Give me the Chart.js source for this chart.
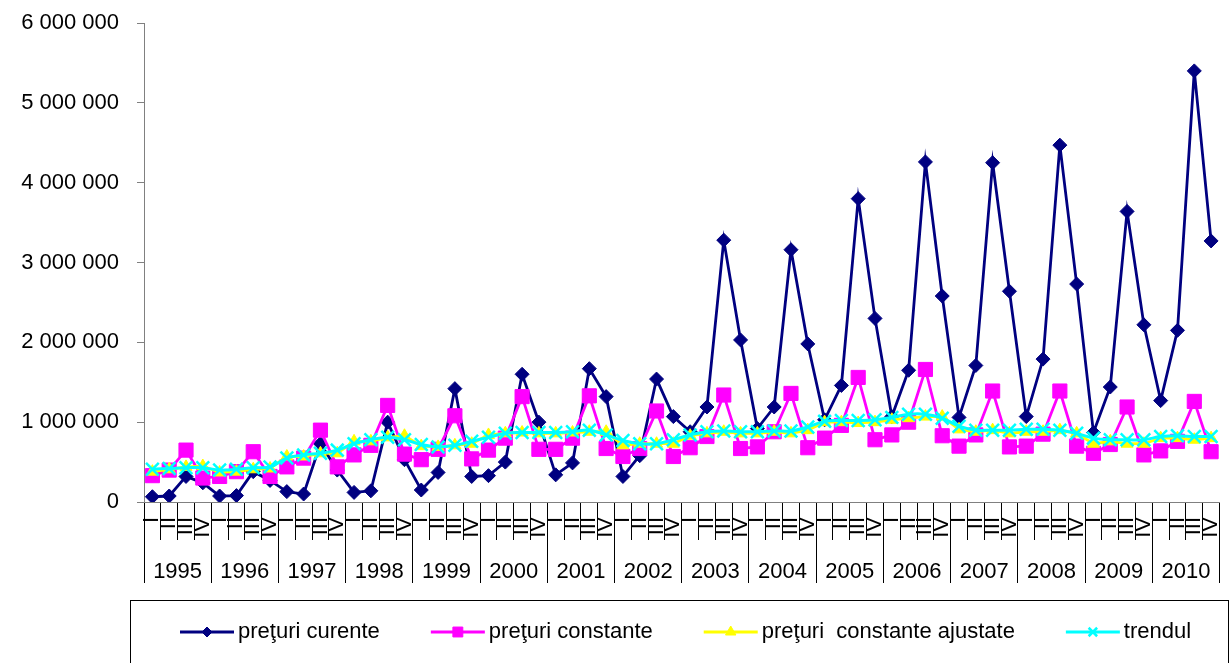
<!DOCTYPE html>
<html lang="ro">
<head>
    <meta charset="UTF-8">
    <title>Preţuri curente, constante, ajustate şi trendul</title>
    <script src="https://cdn.jsdelivr.net/npm/chart.js@4.4.1/dist/chart.umd.min.js"></script>
    <style>
        html, body { margin: 0; padding: 0; background: #fff; }
        #wrap { width: 1231px; height: 663px; }
    </style>
</head>
<body>
<div id="wrap"><canvas id="chart" width="1231" height="663"></canvas></div>
<script>
    // --- data (quarterly, 1995-2010) ---
    const years = ['1995', '1996', '1997', '1998', '1999', '2000', '2001', '2002',
                   '2003', '2004', '2005', '2006', '2007', '2008', '2009', '2010'];
    const quarters = ['I', 'II', 'III', 'IV'];
    const quarterLabels = years.flatMap(() => quarters);

    const yTicks = [0, 1000000, 2000000, 3000000, 4000000, 5000000, 6000000];

    const preturiCurente = [
        66000, 75000, 320000, 240000,
        75000, 80000, 380000, 270000,
        130000, 100000, 730000, 400000,
        120000, 140000, 1000000, 530000,
        150000, 370000, 1420000, 320000,
        330000, 500000, 1600000, 1000000,
        340000, 490000, 1670000, 1320000,
        320000, 580000, 1540000, 1070000,
        880000, 1190000, 3280000, 2030000,
        920000, 1190000, 3160000, 1980000,
        1030000, 1460000, 3800000, 2300000,
        1070000, 1650000, 4260000, 2580000,
        1060000, 1710000, 4250000, 2640000,
        1070000, 1790000, 4470000, 2730000,
        870000, 1440000, 3640000, 2220000,
        1270000, 2150000, 5400000, 3270000
    ];
    const preturiConstante = [
        330000, 400000, 650000, 300000,
        320000, 380000, 630000, 320000,
        440000, 550000, 900000, 440000,
        590000, 710000, 1210000, 600000,
        530000, 660000, 1080000, 540000,
        650000, 800000, 1320000, 660000,
        660000, 800000, 1330000, 670000,
        570000, 670000, 1140000, 570000,
        680000, 820000, 1340000, 670000,
        690000, 880000, 1360000, 680000,
        800000, 960000, 1560000, 780000,
        840000, 1000000, 1660000, 830000,
        700000, 840000, 1390000, 690000,
        700000, 850000, 1390000, 700000,
        610000, 720000, 1190000, 590000,
        640000, 760000, 1260000, 630000
    ];
    const preturiAjustate = [
        380000, 410000, 440000, 450000,
        370000, 380000, 410000, 420000,
        570000, 570000, 610000, 610000,
        760000, 760000, 810000, 830000,
        700000, 690000, 710000, 730000,
        840000, 860000, 870000, 860000,
        860000, 870000, 880000, 880000,
        710000, 730000, 730000, 730000,
        830000, 860000, 880000, 860000,
        860000, 880000, 860000, 900000,
        1000000, 1000000, 990000, 1000000,
        1030000, 1050000, 1070000, 1070000,
        910000, 880000, 900000, 860000,
        880000, 880000, 900000, 860000,
        730000, 760000, 730000, 730000,
        800000, 800000, 780000, 800000
    ];
    const trendul = [
        410000, 420000, 430000, 430000,
        400000, 410000, 430000, 440000,
        550000, 590000, 610000, 650000,
        730000, 780000, 810000, 780000,
        720000, 690000, 710000, 760000,
        810000, 860000, 870000, 870000,
        870000, 880000, 900000, 840000,
        770000, 730000, 730000, 780000,
        840000, 880000, 890000, 880000,
        880000, 890000, 890000, 940000,
        1010000, 1020000, 1020000, 1030000,
        1060000, 1100000, 1100000, 1050000,
        950000, 900000, 900000, 900000,
        910000, 910000, 900000, 860000,
        800000, 780000, 780000, 780000,
        820000, 830000, 820000, 820000
    ];

    const FONT = '"Liberation Sans", Arial, sans-serif';
    Chart.defaults.font.family = FONT;
    Chart.defaults.color = '#000';

    // space-grouped thousands, like "6 000 000"
    const fmt = v => String(v).replace(/\B(?=(\d{3})+(?!\d))/g, ' ');

    // legend in a framed box under the axis
    const boxLegend = {
        id: 'boxLegend',
        afterDraw(chart) {
            const ctx = chart.ctx;
            ctx.save();
            ctx.strokeStyle = '#000';
            ctx.lineWidth = 1;
            ctx.strokeRect(130.5, 600.5, 1098, 80);
            ctx.font = '22px ' + FONT;
            ctx.textBaseline = 'middle';
            let x = 180;
            const y = 632;
            chart.data.datasets.forEach(ds => {
                ctx.strokeStyle = ds.borderColor;
                ctx.lineWidth = 3;
                ctx.beginPath();
                ctx.moveTo(x, y);
                ctx.lineTo(x + 54, y);
                ctx.stroke();
                ctx.fillStyle = ds.pointBackgroundColor;
                ctx.strokeStyle = ds.pointBorderColor;
                ctx.lineWidth = ds.pointBorderWidth;
                Chart.helpers.drawPoint(ctx, {
                    pointStyle: ds.pointStyle, rotation: 0,
                    radius: ds.legendRadius, borderWidth: ds.pointBorderWidth
                }, x + 27, y);
                ctx.fillStyle = '#000';
                ctx.fillText(ds.label, x + 58, y);
                x += 58 + ctx.measureText(ds.label).width + 51;
            });
            ctx.restore();
        }
    };

    new Chart(document.getElementById('chart').getContext('2d'), {
        type: 'line',
        data: {
            labels: quarterLabels,
            datasets: [
                {
                    label: 'preţuri curente',
                    data: preturiCurente,
                    xAxisID: 'x',
                    borderColor: '#000080',
                    borderWidth: 2.8,
                    pointStyle: 'rectRot',
                    pointRadius: 7,
                    legendRadius: 5,
                    pointBackgroundColor: '#000080',
                    pointBorderColor: '#000080',
                    pointBorderWidth: 1,
                    tension: 0,
                    order: 4
                },
                {
                    label: 'preţuri constante',
                    data: preturiConstante,
                    xAxisID: 'x',
                    borderColor: '#FF00FF',
                    borderWidth: 2.8,
                    pointStyle: 'rect',
                    pointRadius: 10,
                    legendRadius: 7,
                    pointBackgroundColor: '#FF00FF',
                    pointBorderColor: '#FF00FF',
                    pointBorderWidth: 1,
                    tension: 0,
                    order: 3
                },
                {
                    label: 'preţuri  constante ajustate',
                    data: preturiAjustate,
                    xAxisID: 'x',
                    borderColor: '#FFFF00',
                    borderWidth: 2.8,
                    pointStyle: 'triangle',
                    pointRadius: 7,
                    legendRadius: 6,
                    pointBackgroundColor: '#FFFF00',
                    pointBorderColor: '#FFFF00',
                    pointBorderWidth: 1,
                    tension: 0,
                    order: 2
                },
                {
                    label: 'trendul',
                    data: trendul,
                    xAxisID: 'x',
                    borderColor: '#00FFFF',
                    borderWidth: 3,
                    pointStyle: 'crossRot',
                    pointRadius: 9,
                    legendRadius: 6,
                    pointBackgroundColor: '#00FFFF',
                    pointBorderColor: '#00FFFF',
                    pointBorderWidth: 2.5,
                    tension: 0.4,
                    order: 1
                }
            ]
        },
        options: {
            responsive: false,
            animation: false,
            devicePixelRatio: 1,
            layout: { padding: { left: 0, right: 9, top: 23, bottom: 78 } },
            plugins: {
                legend: { display: false },
                tooltip: { enabled: false }
            },
            scales: {
                x: {
                    type: 'category',
                    labels: quarterLabels,
                    offset: true,
                    grid: { offset: true, drawOnChartArea: false, tickLength: 38, color: '#000' },
                    border: { color: '#808080', width: 1 },
                    ticks: {
                        autoSkip: false, minRotation: 90, maxRotation: 90,
                        padding: -23, font: { size: 22 }, color: '#000'
                    },
                    afterFit: s => { s.height = 38; }
                },
                x2: {
                    type: 'category',
                    position: 'bottom',
                    labels: years,
                    offset: true,
                    grid: { offset: true, drawOnChartArea: false, tickLength: 43, color: '#000' },
                    border: { display: false },
                    ticks: { autoSkip: false, maxRotation: 0, padding: -24, font: { size: 22 }, color: '#000' },
                    afterFit: s => { s.height = 45; }
                },
                y: {
                    min: 0,
                    max: 6000000,
                    afterBuildTicks: s => { s.ticks = yTicks.map(v => ({ value: v })); },
                    ticks: { padding: 18, font: { size: 22 }, color: '#000', callback: v => fmt(v) },
                    grid: { drawOnChartArea: false, tickLength: 7, color: '#808080' },
                    border: { color: '#808080', width: 1 },
                    afterFit: s => { s.width = 144; s.paddingTop = 0; s.paddingBottom = 0; }
                }
            }
        },
        plugins: [boxLegend]
    });
</script>
</body>
</html>
